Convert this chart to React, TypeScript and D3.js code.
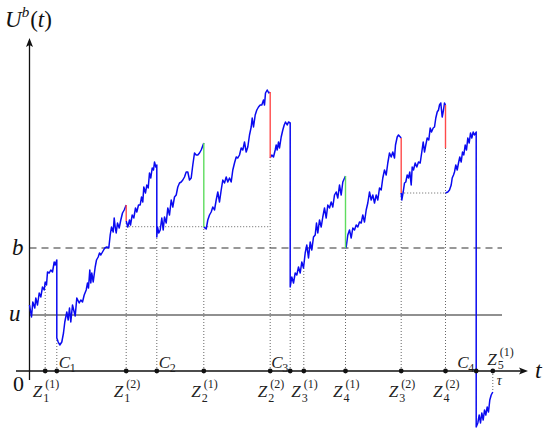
import React from 'react';
import * as d3 from 'd3';

type Pt = [number, number];

// levels
const uLevel = 56;
const bLevel = 123;

// surplus path pieces [t, U]; a new piece starts after each coloured jump
const piece1: Pt[] = [[0,66],[2,54],[3.3,69],[5.3,63],[6.3,73],[8,66],[9.7,78],[11.3,74],[13,84],[14.7,81],[15.7,89],[17,86],[18,99],[19.7,98],[21.3,101],[23,99],[24.7,109],[25.7,106],[27.3,111],[27.3,33],[28.7,29],[30.3,26],[32.3,29],[34,38],[35.3,49],[37.3,59],[38.7,51],[40,63],[41.3,49],[43,66],[44.7,59],[45.7,55],[47.3,73],[49.7,68],[51.3,71],[53,69],[54.7,76],[56.7,81],[58,88],[59,83],[60.3,101],[61.3,88],[62.3,98],[63.7,89],[65.7,104],[67,111],[68.7,114],[70,118],[71.3,116],[73,119],[75.3,123],[77.3,124],[79.3,123],[80.7,136],[82,144],[83.7,139],[84.7,153],[85.7,144],[86.7,138],[88,148],[89.7,143],[91.3,151],[93,158],[94.7,161],[96.7,166]];
const piece2: Pt[] = [[96.7,150],[98.3,144],[100,151],[101,146],[102.7,156],[104.3,153],[106,163],[107.3,159],[109,166],[110.7,166],[112,174],[113.3,169],[114.3,184],[116,178],[117.3,186],[118.7,183],[120,198],[121.3,193],[122.7,203],[124,201],[125,209],[126.3,204],[127.3,206],[127.3,134],[128,144],[129.3,138],[130.7,141],[132.3,153],[133.7,141],[135,154],[136.7,148],[138.3,163],[140,156],[141.7,171],[143.3,164],[145,174],[146.7,176],[148.3,184],[150,188],[151.7,189],[153.3,191],[155,194],[156.7,199],[158.3,199],[160,191],[161.7,193],[163.3,206],[165,218],[166.7,216],[168.3,216],[170,218],[171.7,221],[174.3,228]];
const piece3: Pt[] = [[174.3,144],[176.7,142],[178.3,151],[180,156],[181.7,159],[183.3,164],[185,161],[186.7,171],[188.3,179],[190,169],[191.7,181],[193.3,191],[195,188],[196.7,194],[198.3,189],[200,193],[201.7,189],[203.3,201],[205,208],[206.7,214],[208.3,213],[210,216],[211.7,223],[213.3,221],[215,229],[216.7,219],[218.3,224],[220,236],[221.7,244],[222.7,253],[224,244],[225.7,256],[227.3,261],[229,264],[230.7,266],[232.3,266],[234,271],[235,266],[236,278],[237.7,281],[239.3,278],[240.7,279]];
const piece4: Pt[] = [[240.7,213],[242.3,216],[244,214],[245.7,221],[246.7,226],[247.7,221],[249,229],[250,223],[251.7,234],[253.3,241],[254.7,246],[256,249],[257.7,246],[259,249],[260.7,248],[260.7,84],[262.3,94],[264,88],[265.7,98],[267.3,96],[269,104],[270.7,98],[272.3,109],[274,103],[275.7,118],[277.3,126],[279,113],[280.7,129],[282.3,121],[284,134],[285.7,136],[287,148],[288.3,138],[290,151],[291.7,144],[293.3,154],[295,163],[296.7,153],[298.3,166],[300,163],[301.7,169],[303.3,164],[305,176],[306.7,179],[308.3,173],[310,186],[311.7,176],[313.3,189],[316,195]];
const piece5: Pt[] = [[316,123],[316.7,124],[318.3,136],[320,141],[321.7,133],[323.3,143],[325,141],[326.7,146],[328.3,144],[330,149],[331.7,148],[333.3,156],[335,149],[336.7,161],[338.3,168],[340,179],[341.7,171],[343.3,176],[345,168],[346.7,176],[348.3,171],[350,183],[351.7,181],[353.3,193],[355,201],[356.7,196],[358.3,208],[360,218],[361.7,214],[363.3,219],[365,213],[366,226],[367.7,234],[369,236],[371.7,233]];
const piece6: Pt[] = [[371.7,178],[372.3,171],[373.7,179],[375,188],[376.3,189],[377.7,196],[379,193],[380.3,199],[381.7,186],[382.7,204],[384,201],[385.7,208],[387.3,204],[389,209],[390.7,208],[392.3,219],[393.7,229],[395,219],[396.3,226],[397.7,233],[399.3,231],[400.7,243],[402,239],[403.7,243],[405,244],[406.3,253],[407.7,259],[409,261],[410,266],[411.3,268],[412.7,254],[414,261],[415,268],[416,266]];
const piece7: Pt[] = [[416,178],[418.3,179],[420,181],[421.7,186],[422.7,193],[424,196],[425,199],[426.3,206],[427.7,201],[429,208],[430.3,214],[431.7,209],[433,219],[434.3,216],[435.7,226],[437,221],[438.3,233],[439.7,228],[441,238],[442.3,233],[443.7,239],[445,236],[446.7,239],[446.7,-56],[448.3,-52],[449.7,-44],[451,-52],[452.3,-42],[453.7,-49],[455,-39],[456.3,-44],[457.7,-36],[459,-41],[460.3,-29],[461.7,-24],[463.3,-21]];
const pieces = [piece1, piece2, piece3, piece4, piece5, piece6, piece7];

// claim jumps drawn in colour
const jumps = [
  { t: 96.7, from: 166, to: 150, kind: 'red' },
  { t: 174.3, from: 228, to: 144, kind: 'green' },
  { t: 240.7, from: 279, to: 213, kind: 'red' },
  { t: 316, from: 195, to: 123, kind: 'green' },
  { t: 371.7, from: 233, to: 178, kind: 'red' },
  { t: 416, from: 266, to: 223, kind: 'red' },
];

const zTicks = [
  { t: 15.7, i: 1, k: 1, top: 88 },
  { t: 96.7, i: 1, k: 2, top: 150 },
  { t: 174.3, i: 2, k: 1, top: 144 },
  { t: 240.7, i: 2, k: 2, top: 213 },
  { t: 274.3, i: 3, k: 1, top: 103 },
  { t: 316, i: 4, k: 1, top: 123 },
  { t: 371.7, i: 3, k: 2, top: 178 },
  { t: 416, i: 4, k: 2, top: 223 },
];
const cTicks = [
  { t: 27.3, i: 1, top: 33, side: 'right' },
  { t: 127.3, i: 2, top: 134, side: 'right' },
  { t: 260.7, i: 3, top: 84, side: 'left' },
  { t: 446.7, i: 4, top: 0, side: 'left' },
];
const ruinTick = { t: 463.3, i: 5, k: 1, bottom: -21 };
const guides = [
  { level: 144.3, t0: 96.7, t1: 240.7 },
  { level: 178, t0: 371.7, t1: 416 },
];

const colors: Record<string, string> = { red: '#ff4a4a', green: '#5fdc5f' };
const serif = 'Liberation Serif';

export default function App() {
  const width = 550;
  const height = 431;
  const x = d3.scaleLinear().domain([0, 500]).range([29.5, 529.5]);
  const y = d3.scaleLinear().domain([0, 340]).range([371, 31]);
  const line = d3.line<Pt>().x((d) => x(d[0])).y((d) => y(d[1]));

  const x0 = x(0);
  const y0 = y(0);
  const xEnd = x(498.5);
  const yTop = y(333);
  const levelEnd = x(472.5);

  return (
    <svg width={width} height={height} fontFamily={serif}
      style={{ position: 'absolute', left: 0, top: 0, background: '#fff' }}>
      {/* dotted guides */}
      {zTicks.map((d, idx) => (
        <line key={'zv' + idx} x1={x(d.t)} x2={x(d.t)} y1={y0} y2={y(d.top)}
          stroke="#666" strokeWidth={1} strokeDasharray="1,2" />
      ))}
      {cTicks.filter((d) => d.top > 0).map((d, idx) => (
        <line key={'cv' + idx} x1={x(d.t)} x2={x(d.t)} y1={y0} y2={y(d.top)}
          stroke="#666" strokeWidth={1} strokeDasharray="1,2" />
      ))}
      <line x1={x(ruinTick.t)} x2={x(ruinTick.t)} y1={y0} y2={y(ruinTick.bottom)}
        stroke="#666" strokeWidth={1} strokeDasharray="1,2" />
      {guides.map((g, idx) => (
        <line key={'g' + idx} x1={x(g.t0)} x2={x(g.t1)} y1={y(g.level)} y2={y(g.level)}
          stroke="#666" strokeWidth={1} strokeDasharray="1,2" />
      ))}

      {/* levels u and b */}
      <line x1={x0} x2={levelEnd} y1={y(uLevel)} y2={y(uLevel)} stroke="#222" strokeWidth={1.1} />
      <line x1={x0} x2={levelEnd} y1={y(bLevel)} y2={y(bLevel)} stroke="#333" strokeWidth={1.1}
        strokeDasharray="7,5" />

      {/* axes */}
      <line x1={16} x2={xEnd - 4} y1={y0} y2={y0} stroke="#111" strokeWidth={1.3} />
      <path d={`M${xEnd},${y0} L${xEnd - 9},${y0 - 3.5} L${xEnd - 7},${y0} L${xEnd - 9},${y0 + 3.5} Z`} fill="#111" />
      <line x1={x0} x2={x0} y1={y(-9)} y2={yTop + 4} stroke="#111" strokeWidth={1.3} />
      <path d={`M${x0},${yTop} L${x0 - 3.5},${yTop + 9} L${x0},${yTop + 7} L${x0 + 3.5},${yTop + 9} Z`} fill="#111" />

      {/* process */}
      {pieces.map((p, idx) => (
        <path key={'p' + idx} d={line(p) || ''} fill="none" stroke="#0a0af0" strokeWidth={1.5}
          strokeLinejoin="round" />
      ))}
      {jumps.map((j, idx) => (
        <line key={'j' + idx} x1={x(j.t)} x2={x(j.t)} y1={y(j.from)} y2={y(j.to)}
          stroke={colors[j.kind]} strokeWidth={1.4} />
      ))}

      {/* tick dots */}
      {[...zTicks, ...cTicks, ruinTick].map((d, idx) => (
        <circle key={'dot' + idx} cx={x(d.t)} cy={y0} r={2.4} fill="#111" />
      ))}

      {/* Z labels */}
      {zTicks.map((d, idx) => {
        const cx = x(d.t);
        return (
          <g key={'zl' + idx} fill="#222">
            <text x={cx - 12.5} y={397} fontSize={17} fontStyle="italic">Z</text>
            <text x={cx - 2} y={402} fontSize={12}>{d.i}</text>
            <text x={cx} y={388} fontSize={12}>({d.k})</text>
          </g>
        );
      })}
      {cTicks.map((d, idx) => {
        const cx = x(d.t);
        const sx = d.side === 'right' ? cx + 2 : cx - 19;
        return (
          <g key={'cl' + idx} fill="#222">
            <text x={sx} y={368} fontSize={17} fontStyle="italic">C</text>
            <text x={sx + 11} y={372} fontSize={12}>{d.i}</text>
          </g>
        );
      })}
      <g fill="#222">
        <text x={x(ruinTick.t) - 5.5} y={365} fontSize={17} fontStyle="italic">Z</text>
        <text x={x(ruinTick.t) + 5} y={369} fontSize={12}>{ruinTick.i}</text>
        <text x={x(ruinTick.t) + 7} y={356} fontSize={12}>({ruinTick.k})</text>
        <text x={x(ruinTick.t) + 4} y={385} fontSize={14} fontStyle="italic">τ</text>
      </g>

      {/* axis labels */}
      <g fill="#111">
        <text x={13} y={391} fontSize={22}>0</text>
        <text x={9} y={321} fontSize={23} fontStyle="italic">u</text>
        <text x={12} y={255} fontSize={23} fontStyle="italic">b</text>
        <text x={535} y={378} fontSize={24} fontStyle="italic">t</text>
        <text x={5} y={27} fontSize={23}>
          <tspan fontStyle="italic">U</tspan>
          <tspan fontStyle="italic" fontSize={15} dy={-10}>b</tspan>
          <tspan dy={10} dx={1}>(</tspan>
          <tspan fontStyle="italic">t</tspan>
          <tspan>)</tspan>
        </text>
      </g>
    </svg>
  );
}
